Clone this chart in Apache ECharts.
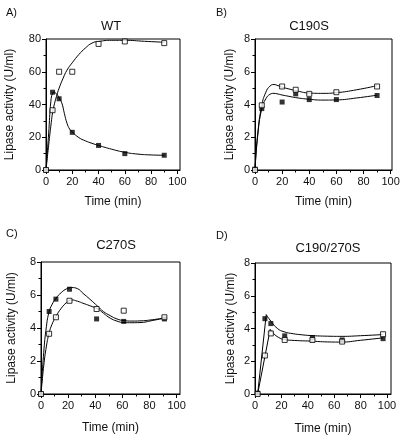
<!DOCTYPE html>
<html>
<head>
<meta charset="utf-8">
<script src="https://cdn.jsdelivr.net/npm/echarts@6/dist/echarts.min.js"></script>
<style>
html,body{margin:0;padding:0;background:#fff;}
#c{width:405px;height:439px;}
</style>
</head>
<body>
<div id="c"></div>
<script>
// ---- tick labels ----
const xTicks = [0, 20, 40, 60, 80, 100];
const xMinorTicks = [10, 30, 50, 70, 90];

// ---- Panel A (WT) ----
const A_t = [0, 5, 10, 20, 40, 60, 90];
const A_open = [0, 36.5, 60, 60, 77, 78.5, 77.5];
const A_filled = [0, 47.5, 43.5, 23, 15, 10, 9];
const A_openFit_t = [0, 2, 4, 5, 6, 8, 10, 13, 16, 20, 25, 30, 35, 40, 50, 60, 75, 90];
const A_openFit_v = [0, 15, 29, 35, 39, 45, 50, 56, 61, 65.5, 70.5, 74.5, 77.5, 78.5, 79.2, 79.2, 78.6, 78];
const A_filledFit_t = [0, 2, 3.7, 5, 6, 8, 10, 12, 14, 16, 18, 20, 25, 30, 35, 40, 50, 60, 70, 80, 90];
const A_filledFit_v = [0, 22, 42, 47, 47.5, 46.5, 44, 41, 34.5, 28.5, 25, 23.2, 19.8, 17.8, 16.3, 15, 12.7, 10.8, 9.7, 9.2, 9];

// ---- Panel B (C190S) ----
const B_t = [0, 5, 20, 30, 40, 60, 90];
const B_open = [0, 3.95, 5.1, 4.9, 4.65, 4.75, 5.1];
const B_filled = [0.05, 3.75, 4.15, 4.65, 4.3, 4.3, 4.55];
const B_fit_t = [0, 2, 5, 8, 11, 14, 17, 20, 25, 30, 40, 50, 60, 75, 90];
const B_openFit_v = [0, 2.2, 3.95, 4.75, 5.12, 5.22, 5.15, 5.06, 4.95, 4.85, 4.7, 4.68, 4.72, 4.9, 5.15];
const B_filledFit_v = [0, 2.1, 3.75, 4.35, 4.62, 4.68, 4.64, 4.58, 4.5, 4.42, 4.32, 4.27, 4.28, 4.4, 4.57];

// ---- Panel C (C270S) ----
const C_t = [0, 6, 11, 21, 41, 61, 91];
const C_open = [0, 3.65, 4.65, 5.65, 5.15, 5.05, 4.65];
const C_filled = [0, 5.0, 5.75, 6.35, 4.55, 4.4, 4.55];
const C_fit_t = [0, 2, 4, 6, 8, 11, 15, 19, 22.5, 27, 31, 36, 42, 46, 51, 56, 61, 67, 73, 82, 92];
const C_openFit_v = [0, 1.7, 2.9, 3.7, 4.2, 4.7, 5.2, 5.55, 5.7, 5.62, 5.5, 5.35, 5.15, 4.9, 4.6, 4.42, 4.33, 4.32, 4.33, 4.45, 4.62];
const C_filledFit_v = [0, 2.5, 4.1, 5.0, 5.4, 5.8, 6.15, 6.38, 6.45, 6.38, 6.1, 5.75, 5.3, 5.0, 4.75, 4.55, 4.45, 4.42, 4.43, 4.5, 4.62];

// ---- Panel D (C190/270S) ----
const D_open_t = [2, 7.5, 12, 22.5, 43.5, 66, 97];
const D_open = [0, 2.35, 3.7, 3.3, 3.3, 3.2, 3.65];
const D_filled_t = [2, 7.5, 12, 22.5, 43.5, 66, 97];
const D_filled = [0.05, 4.6, 4.3, 3.55, 3.45, 3.3, 3.38];
const D_upRise_t = [2, 8.5];
const D_upRise_v = [0, 4.85];
const D_upFit_t = [8.5, 12, 17, 22, 29, 35, 42, 55, 66, 80, 97];
const D_upFit_v = [4.85, 4.45, 4.0, 3.8, 3.68, 3.62, 3.57, 3.53, 3.52, 3.56, 3.63];
const D_loRise_t = [2, 11.5];
const D_loRise_v = [0, 3.95];
const D_loFit_t = [11.5, 14, 18, 22, 30, 42, 55, 65, 80, 97];
const D_loFit_v = [3.95, 3.7, 3.45, 3.33, 3.27, 3.23, 3.18, 3.17, 3.28, 3.43];

// ---- styling/layout ----
const FONT = '"Liberation Sans", Arial, Helvetica, sans-serif';
const INK = '#111';
const zip = (t, v) => t.map((x, i) => [x, v[i]]);

const panels = [
  {grid: {left: 46, top: 39, width: 134, height: 131}, xMax: 102, yMax: 80, yInt: 20, nameGapY: 30, nameGapX: 26,
   title: 'WT', tx: 111, ty: 26, label: 'A)', lx: 6, ly: 13,
   lines: [[A_openFit_t, A_openFit_v], [A_filledFit_t, A_filledFit_v]], straight: [],
   open: zip(A_t, A_open), filled: zip(A_t, A_filled)},
  {grid: {left: 255, top: 39, width: 137, height: 131}, xMax: 101, yMax: 8, yInt: 2, nameGapY: 19, nameGapX: 26,
   title: 'C190S', tx: 309, ty: 26, label: 'B)', lx: 216, ly: 13,
   lines: [[B_fit_t, B_openFit_v], [B_fit_t, B_filledFit_v]], straight: [],
   open: zip(B_t, B_open), filled: zip(B_t, B_filled)},
  {grid: {left: 41, top: 262, width: 139, height: 132}, xMax: 102.5, yMax: 8, yInt: 2, nameGapY: 23, nameGapX: 28,
   title: 'C270S', tx: 116, ty: 245, label: 'C)', lx: 6, ly: 234,
   lines: [[C_fit_t, C_openFit_v], [C_fit_t, C_filledFit_v]], straight: [],
   open: zip(C_t, C_open), filled: zip(C_t, C_filled)},
  {grid: {left: 255, top: 263, width: 136, height: 131}, xMax: 103, yMax: 8, yInt: 2, nameGapY: 18, nameGapX: 29,
   title: 'C190/270S', tx: 328, ty: 248, label: 'D)', lx: 216, ly: 236,
   lines: [[D_upFit_t, D_upFit_v], [D_loFit_t, D_loFit_v]],
   straight: [[D_upRise_t, D_upRise_v], [D_loRise_t, D_loRise_v]],
   open: zip(D_open_t, D_open), filled: zip(D_filled_t, D_filled)}
];

const grid = [], xAxis = [], yAxis = [], series = [], graphic = [];
panels.forEach((p, i) => {
  grid.push(Object.assign({show: true, borderColor: '#000', borderWidth: 1, backgroundColor: 'transparent'}, p.grid));
  xAxis.push({
    type: 'value', gridIndex: i, position: 'bottom', min: 0, max: p.xMax,
    name: 'Time (min)', nameLocation: 'middle', nameGap: p.nameGapX,
    nameTextStyle: {fontFamily: FONT, fontSize: 12, color: INK},
    axisLine: {show: true, lineStyle: {color: '#000', width: 1}},
    axisTick: {show: true, length: 4, customValues: xTicks, lineStyle: {color: '#000'}},
    axisLabel: {show: true, customValues: xTicks, margin: 6, fontFamily: FONT, fontSize: 11, color: INK},
    splitLine: {show: false}
  });
  xAxis.push({
    type: 'value', gridIndex: i, position: 'bottom', min: 0, max: p.xMax,
    axisLine: {show: false},
    axisTick: {show: true, length: 2.5, customValues: xMinorTicks, lineStyle: {color: '#000'}},
    axisLabel: {show: false},
    splitLine: {show: false}
  });
  yAxis.push({
    type: 'value', gridIndex: i, position: 'left', min: 0, max: p.yMax, interval: p.yInt,
    name: 'Lipase activity (U/ml)', nameLocation: 'middle', nameGap: p.nameGapY,
    nameTextStyle: {fontFamily: FONT, fontSize: 12, color: INK},
    axisLine: {show: true, lineStyle: {color: '#000', width: 1}},
    axisTick: {show: true, length: 4, lineStyle: {color: '#000'}},
    minorTick: {show: true, splitNumber: 2, length: 2.5, lineStyle: {color: '#000'}},
    axisLabel: {margin: 5, fontFamily: FONT, fontSize: 11, color: INK},
    splitLine: {show: false}
  });
  const xi = i * 2;
  p.lines.forEach(([t, v]) => series.push({
    type: 'line', xAxisIndex: xi, yAxisIndex: i, data: zip(t, v), smooth: true,
    showSymbol: false, symbol: 'none', lineStyle: {color: '#000', width: 1}, z: 2, silent: true
  }));
  p.straight.forEach(([t, v]) => series.push({
    type: 'line', xAxisIndex: xi, yAxisIndex: i, data: zip(t, v), smooth: false,
    showSymbol: false, symbol: 'none', lineStyle: {color: '#000', width: 1}, z: 2, silent: true
  }));
  series.push({type: 'scatter', xAxisIndex: xi, yAxisIndex: i, data: p.filled, symbol: 'rect', symbolSize: 5,
    itemStyle: {color: '#000', borderColor: '#000', borderWidth: 0}, z: 3, silent: true});
  series.push({type: 'scatter', xAxisIndex: xi, yAxisIndex: i, data: p.open, symbol: 'rect', symbolSize: 5,
    itemStyle: {color: '#fff', borderColor: '#000', borderWidth: 1}, z: 4, silent: true});
  graphic.push({type: 'text', x: p.tx, y: p.ty, style: {text: p.title, fontFamily: FONT, fontSize: 13,
    fill: INK, textAlign: 'center', textVerticalAlign: 'middle'}});
  graphic.push({type: 'text', x: p.lx, y: p.ly, style: {text: p.label, fontFamily: FONT, fontSize: 11,
    fill: INK, textAlign: 'left', textVerticalAlign: 'middle'}});
});

const chart = echarts.init(document.getElementById('c'), null, {renderer: 'canvas'});
chart.setOption({animation: false, backgroundColor: '#fff', grid, xAxis, yAxis, series, graphic});
</script>
</body>
</html>
